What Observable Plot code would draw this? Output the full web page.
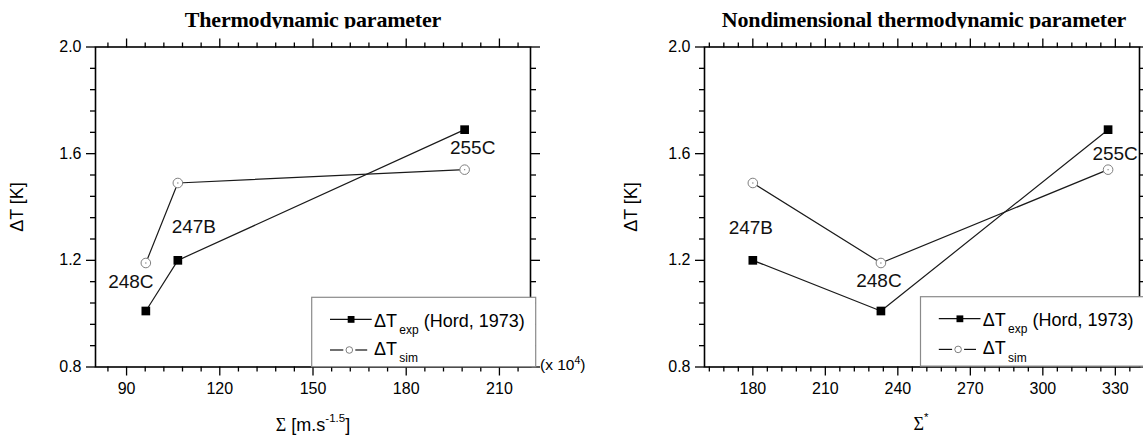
<!DOCTYPE html>
<html><head><meta charset="utf-8">
<script src="https://cdn.jsdelivr.net/npm/d3@7"></script>
<script src="https://cdn.jsdelivr.net/npm/@observablehq/plot@0.6"></script>
<style>
body{margin:0;background:#fff;}
#wrap{position:relative;width:1143px;height:435px;overflow:hidden;background:#fff;font-family:"Liberation Sans",Arial,sans-serif;}
#wrap > svg{position:absolute;top:0;}
</style></head><body><div id="wrap"></div>
<script>
// ---- data ----
const tests = ["248C", "247B", "255C"];
const sigma = [96.2, 106.5, 198.8];      // Σ  [m.s^-1.5] (x 10^4)
const sigmaStar = [233, 180, 327];       // Σ*
const dTexp = [1.01, 1.20, 1.69];        // ΔT_exp (Hord, 1973)
const dTsim = [1.19, 1.49, 1.54];        // ΔT_sim
const yTicks = [0.8, 1.2, 1.6, 2.0];
const xTicksLeft = [90, 120, 150, 180, 210];
const xTicksRight = [180, 210, 240, 270, 300, 330];
const titles = ["Thermodynamic parameter", "Nondimensional thermodynamic parameter"];

const rows = tests.map((t, i) => ({test: t, s: sigma[i], ss: sigmaStar[i], exp: dTexp[i], sim: dTsim[i]}));
const yMinor = d3.range(1, 15).filter(i => i % 5 !== 0).map(i => +(0.8 + i * 0.08).toFixed(2));

function minorOf(major, domain, step) {
  const start = major[0] - step * Math.floor((major[0] - domain[0]) / step);
  return d3.range(start, domain[1] - 1e-9, step).filter(v => !major.includes(v) && v > domain[0]);
}

function panel({xKey, domain, major, left, width, marginLeft, marginRight, labelPlacement}) {
  const minorX = minorOf(major, domain, 6);
  const sorted = d3.sort(rows, d => d[xKey]);
  const labelMarks = labelPlacement.map(([t, series, dx, dy]) =>
    Plot.text(rows.filter(d => d.test === t), {x: xKey, y: series, text: "test", dx, dy, fontSize: 19, fill: "#111"}));
  const p = Plot.plot({
    width, height: 435, marginLeft, marginRight, marginTop: 46.5, marginBottom: 68.5,
    x: {domain}, y: {domain: [0.8, 2.0]},
    style: {fontFamily: "Liberation Sans, Arial, sans-serif", fontSize: "16px", color: "#000", background: "transparent", overflow: "visible"},
    marks: [
      Plot.axisX(major, {anchor: "bottom", tickSize: 9, tickPadding: 7, fontSize: 16, label: null, strokeWidth: 1.3}),
      Plot.axisX(minorX, {anchor: "bottom", tickSize: 5, fill: "none", strokeWidth: 1.3}),
      Plot.axisX(major, {anchor: "top", tickSize: 9, fill: "none", strokeWidth: 1.3}),
      Plot.axisX(minorX, {anchor: "top", tickSize: 5, fill: "none", strokeWidth: 1.3}),
      Plot.axisY(yTicks, {anchor: "left", tickSize: 9, tickPadding: 5, fontSize: 16, tickFormat: d3.format(".1f"), label: null, strokeWidth: 1.3}),
      Plot.axisY(yMinor, {anchor: "left", tickSize: 5, fill: "none", strokeWidth: 1.3}),
      Plot.axisY(yTicks, {anchor: "right", tickSize: 9, fill: "none", strokeWidth: 1.3}),
      Plot.axisY(yMinor, {anchor: "right", tickSize: 5, fill: "none", strokeWidth: 1.3}),
      Plot.frame({stroke: "#000", strokeWidth: 1.6}),
      Plot.line(sorted, {x: xKey, y: "exp", stroke: "#1a1a1a", strokeWidth: 1.2}),
      Plot.line(sorted, {x: xKey, y: "sim", stroke: "#1a1a1a", strokeWidth: 1.2}),
      Plot.dot(rows, {x: xKey, y: "exp", symbol: "square", r: 4.9, fill: "#000", stroke: "none"}),
      Plot.dot(rows, {x: xKey, y: "sim", r: 4.8, fill: "#fff", stroke: "#808080", strokeWidth: 1}),
      Plot.dot(rows, {x: xKey, y: "sim", r: 0.7, fill: "#808080", stroke: "none"}),
      ...labelMarks
    ]
  });
  p.style.left = left + "px";
  return p;
}

const wrap = document.getElementById("wrap");
wrap.appendChild(panel({
  xKey: "s", domain: [80, 220], major: xTicksLeft, left: 0, width: 600, marginLeft: 95, marginRight: 70,
  labelPlacement: [["255C", "exp", 8, 18], ["247B", "exp", 16, -33], ["248C", "sim", -15, 19]]
}));
wrap.appendChild(panel({
  xKey: "ss", domain: [160, 340], major: xTicksRight, left: 573, width: 570, marginLeft: 131, marginRight: 4,
  labelPlacement: [["255C", "exp", 7, 24], ["247B", "exp", -2, -32], ["248C", "sim", -2, 18]]
}));

// ---- overlay: titles, axis labels, legends ----
function legend(x0, y0) {
  return `<g transform="translate(${x0},${y0})" font-family="Liberation Sans, Arial, sans-serif" fill="#000">
    <rect x="0" y="0" width="224" height="69.4" fill="#fff" stroke="#8a8a8a" stroke-width="1.2"/>
    <line x1="18.3" x2="60" y1="22" y2="22" stroke="#111" stroke-width="1.2"/>
    <rect x="36" y="18.7" width="6.8" height="6.8" fill="#000"/>
    <text y="29.4" font-size="18"><tspan x="62.3">ΔT</tspan><tspan x="87.6" dy="7" font-size="12">exp</tspan><tspan x="112" dy="-7">(Hord, 1973)</tspan></text>
    <line x1="18.3" x2="31.6" y1="52.7" y2="52.7" stroke="#111" stroke-width="1.2"/>
    <circle cx="37.6" cy="52.7" r="3.3" fill="#fff" stroke="#808080" stroke-width="1"/>
    <line x1="43.6" x2="55.5" y1="52.7" y2="52.7" stroke="#111" stroke-width="1.2"/>
    <text y="57.7" font-size="18"><tspan x="62.3">ΔT</tspan><tspan x="87.6" dy="7.5" font-size="12">sim</tspan></text>
  </g>`;
}
const ov = document.createElementNS("http://www.w3.org/2000/svg", "svg");
ov.setAttribute("width", 1143); ov.setAttribute("height", 435);
ov.style.left = "0px"; ov.style.pointerEvents = "none";
ov.innerHTML = `
  <defs><clipPath id="tclip"><rect x="0" y="0" width="1143" height="28.5"/></clipPath></defs>
  <g clip-path="url(#tclip)" font-family="Liberation Serif, Times New Roman, serif" font-weight="bold" font-size="22" letter-spacing="-0.2" text-anchor="middle" fill="#000">
    <text x="313" y="27">${titles[0]}</text>
    <text x="924" y="27">${titles[1]}</text>
  </g>
  <g font-family="Liberation Sans, Arial, sans-serif" font-size="18" fill="#000" text-anchor="middle">
    <text transform="translate(23,207) rotate(-90)">ΔT [K]</text>
    <text transform="translate(637,207) rotate(-90)">ΔT [K]</text>
    <text x="313" y="431"><tspan font-family="Liberation Serif, serif">Σ</tspan> [m.s<tspan font-size="11.5" dy="-9">-1.5</tspan><tspan dy="9">]</tspan></text>
    <text x="921" y="430"><tspan font-family="Liberation Serif, serif">Σ</tspan><tspan font-size="11.5" dy="-9">*</tspan></text>
  </g>
  <text x="540" y="370" font-family="Liberation Sans, Arial, sans-serif" font-size="15.5" fill="#000">(x 10<tspan font-size="10.5" dy="-6">4</tspan><tspan dy="6">)</tspan></text>
  ${legend(311.7, 297.3)}
  ${legend(920.5, 296.7)}
`;
wrap.appendChild(ov);
</script>
</body></html>
